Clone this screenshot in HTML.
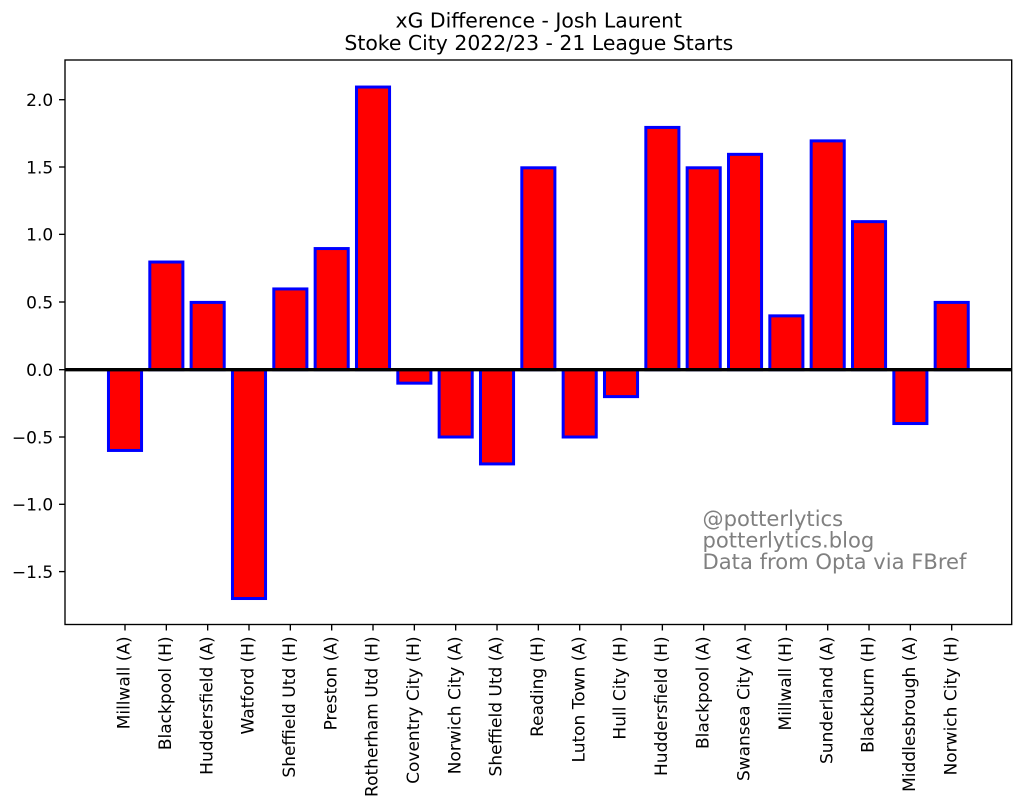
<!DOCTYPE html>
<html>
<head>
<meta charset="utf-8">
<style>
html,body{margin:0;padding:0;background:#fff;}
svg{display:block;}
text{font-family:"DejaVu Sans","Liberation Sans",sans-serif;fill:#000;}
</style>
</head>
<body>
<svg width="1024" height="809" viewBox="0 0 1024 809" xmlns="http://www.w3.org/2000/svg">
<rect x="0" y="0" width="1024" height="809" fill="#fff"/>

<!-- Title -->
<text x="538.8" y="27.3" font-size="20.4" text-anchor="middle">xG Difference - Josh Laurent</text>
<text x="538.8" y="50" font-size="20.4" text-anchor="middle">Stoke City 2022/23 - 21 League Starts</text>

<!-- Bars -->
<g fill="#ff0000" stroke="#0000ff" stroke-width="3">
<rect x="108.47" y="369.7" width="33.07" height="80.76"/>
<rect x="149.81" y="262.02" width="33.07" height="107.68"/>
<rect x="191.14" y="302.4" width="33.07" height="67.3"/>
<rect x="232.47" y="369.7" width="33.07" height="228.82"/>
<rect x="273.81" y="288.94" width="33.07" height="80.76"/>
<rect x="315.15" y="248.56" width="33.07" height="121.14"/>
<rect x="356.48" y="87.04" width="33.07" height="282.66"/>
<rect x="397.82" y="369.7" width="33.07" height="13.46"/>
<rect x="439.15" y="369.7" width="33.07" height="67.3"/>
<rect x="480.49" y="369.7" width="33.07" height="94.22"/>
<rect x="521.82" y="167.8" width="33.07" height="201.9"/>
<rect x="563.16" y="369.7" width="33.07" height="67.3"/>
<rect x="604.49" y="369.7" width="33.07" height="26.92"/>
<rect x="645.83" y="127.42" width="33.07" height="242.28"/>
<rect x="687.16" y="167.8" width="33.07" height="201.9"/>
<rect x="728.5" y="154.34" width="33.07" height="215.36"/>
<rect x="769.83" y="315.86" width="33.07" height="53.84"/>
<rect x="811.17" y="140.88" width="33.07" height="228.82"/>
<rect x="852.5" y="221.64" width="33.07" height="148.06"/>
<rect x="893.84" y="369.7" width="33.07" height="53.84"/>
<rect x="935.17" y="302.4" width="33.07" height="67.3"/>
</g>

<!-- Zero line -->
<line x1="65" y1="369.7" x2="1011.7" y2="369.7" stroke="#000" stroke-width="3.3"/>

<!-- Axes frame -->
<rect x="65" y="60" width="946.7" height="564.5" fill="none" stroke="#000" stroke-width="1.35"/>

<!-- Y ticks -->
<g stroke="#000" stroke-width="1.35">
<line x1="59" y1="99.7" x2="65" y2="99.7"/>
<line x1="59" y1="167.0" x2="65" y2="167.0"/>
<line x1="59" y1="234.35" x2="65" y2="234.35"/>
<line x1="59" y1="302.0" x2="65" y2="302.0"/>
<line x1="59" y1="369.7" x2="65" y2="369.7"/>
<line x1="59" y1="437.0" x2="65" y2="437.0"/>
<line x1="59" y1="504.3" x2="65" y2="504.3"/>
<line x1="59" y1="571.6" x2="65" y2="571.6"/>
</g>
<g font-size="17" text-anchor="end">
<text x="53.2" y="106.0">2.0</text>
<text x="53.2" y="173.3">1.5</text>
<text x="53.2" y="240.65">1.0</text>
<text x="53.2" y="308.3">0.5</text>
<text x="53.2" y="376.0">0.0</text>
<text x="53.2" y="443.3">−0.5</text>
<text x="53.2" y="510.6">−1.0</text>
<text x="53.2" y="577.9">−1.5</text>
</g>

<!-- X ticks -->
<g stroke="#000" stroke-width="1.35">
<line x1="125.0" y1="624.5" x2="125.0" y2="630.5"/>
<line x1="166.34" y1="624.5" x2="166.34" y2="630.5"/>
<line x1="207.67" y1="624.5" x2="207.67" y2="630.5"/>
<line x1="249.0" y1="624.5" x2="249.0" y2="630.5"/>
<line x1="290.34" y1="624.5" x2="290.34" y2="630.5"/>
<line x1="331.68" y1="624.5" x2="331.68" y2="630.5"/>
<line x1="373.01" y1="624.5" x2="373.01" y2="630.5"/>
<line x1="414.35" y1="624.5" x2="414.35" y2="630.5"/>
<line x1="455.68" y1="624.5" x2="455.68" y2="630.5"/>
<line x1="497.02" y1="624.5" x2="497.02" y2="630.5"/>
<line x1="538.35" y1="624.5" x2="538.35" y2="630.5"/>
<line x1="579.69" y1="624.5" x2="579.69" y2="630.5"/>
<line x1="621.02" y1="624.5" x2="621.02" y2="630.5"/>
<line x1="662.36" y1="624.5" x2="662.36" y2="630.5"/>
<line x1="703.69" y1="624.5" x2="703.69" y2="630.5"/>
<line x1="745.03" y1="624.5" x2="745.03" y2="630.5"/>
<line x1="786.36" y1="624.5" x2="786.36" y2="630.5"/>
<line x1="827.7" y1="624.5" x2="827.7" y2="630.5"/>
<line x1="869.03" y1="624.5" x2="869.03" y2="630.5"/>
<line x1="910.37" y1="624.5" x2="910.37" y2="630.5"/>
<line x1="951.7" y1="624.5" x2="951.7" y2="630.5"/>
</g>
<g font-size="17" text-anchor="end">
<text transform="translate(129.7,636.4) rotate(-90)">Millwall (A)</text>
<text transform="translate(171.04,636.4) rotate(-90)">Blackpool (H)</text>
<text transform="translate(212.37,636.4) rotate(-90)">Huddersfield (A)</text>
<text transform="translate(253.7,636.4) rotate(-90)">Watford (H)</text>
<text transform="translate(295.04,636.4) rotate(-90)">Sheffield Utd (H)</text>
<text transform="translate(336.38,636.4) rotate(-90)">Preston (A)</text>
<text transform="translate(377.71,636.4) rotate(-90)">Rotherham Utd (H)</text>
<text transform="translate(419.05,636.4) rotate(-90)">Coventry City (H)</text>
<text transform="translate(460.38,636.4) rotate(-90)">Norwich City (A)</text>
<text transform="translate(501.72,636.4) rotate(-90)">Sheffield Utd (A)</text>
<text transform="translate(543.05,636.4) rotate(-90)">Reading (H)</text>
<text transform="translate(584.39,636.4) rotate(-90)">Luton Town (A)</text>
<text transform="translate(625.72,636.4) rotate(-90)">Hull City (H)</text>
<text transform="translate(667.06,636.4) rotate(-90)">Huddersfield (H)</text>
<text transform="translate(708.39,636.4) rotate(-90)">Blackpool (A)</text>
<text transform="translate(749.73,636.4) rotate(-90)">Swansea City (A)</text>
<text transform="translate(791.06,636.4) rotate(-90)">Millwall (H)</text>
<text transform="translate(832.4,636.4) rotate(-90)">Sunderland (A)</text>
<text transform="translate(873.73,636.4) rotate(-90)">Blackburn (H)</text>
<text transform="translate(915.07,636.4) rotate(-90)">Middlesbrough (A)</text>
<text transform="translate(956.4,636.4) rotate(-90)">Norwich City (H)</text>
</g>

<!-- Watermark -->
<g font-size="21.1">
<text x="702.5" y="526" style="fill:#808080">@potterlytics</text>
<text x="702.5" y="547.5" style="fill:#808080">potterlytics.blog</text>
<text x="702.5" y="569" style="fill:#808080">Data from Opta via FBref</text>
</g>
</svg>
</body>
</html>
